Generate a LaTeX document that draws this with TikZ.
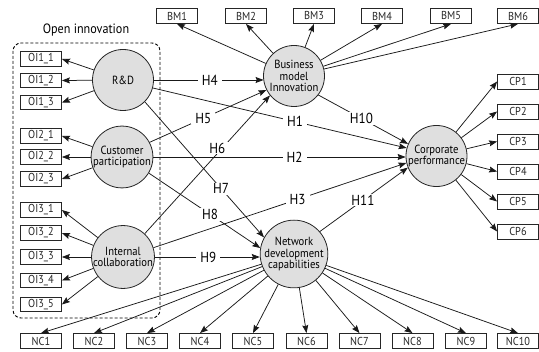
\documentclass[tikz,border=0pt]{standalone}
\usepackage{fontspec}
\setmainfont{PT Sans}[FakeStretch=0.9]
\usetikzlibrary{arrows.meta}
\begin{document}
\begin{tikzpicture}[x=1pt,y=-1pt,
  ind/.style={draw=black!85, line width=0.8pt, minimum width=41pt, minimum height=14.5pt, inner sep=0pt, text=black!85, font=\fontsize{11.5}{12}\selectfont},
  lat/.style={draw=black!85, circle, fill=gray!25, line width=0.8pt, minimum size=61pt, inner sep=0pt, align=center, font=\fontsize{11.8}{11.2}\selectfont},
  arr/.style={-{Stealth[length=8pt,width=6pt,inset=1.2pt]}, line width=0.75pt, draw=black!90},
  hyp/.style={font=\fontsize{14.5}{14.5}\selectfont, fill=white, inner xsep=4pt, inner ysep=1pt},
  grp/.style={draw, line width=0.9pt, dash pattern=on 3pt off 2pt, rounded corners=8pt}
]
\useasboundingbox (0,0) rectangle (539,352);

% group frame
\draw[grp] (13,43) rectangle (160,318);
\node[font=\fontsize{13.5}{13.5}\selectfont] (oilabel) at (86,30) {Open innovation};

% latent variables
\node[lat] (RD)  at (123,80)  {R\&D};
\node[lat] (CuP) at (122,157) {Customer\\participation};
\node[lat] (IC)  at (123,257) {Internal\\collaboration};
\node[lat] (BMI) at (294,76)  {Business\\model\\Innovation};
\node[lat] (CPF) at (436.5,156) {Corporate\\performance};
\node[lat] (NDC) at (294,254) {Network\\development\\capabilities};

% OI indicators
\node[ind] (OI11) at (41,59)  {OI1\_1};
\node[ind] (OI12) at (41,80.5)  {OI1\_2};
\node[ind] (OI13) at (41,102.5) {OI1\_3};
\node[ind] (OI21) at (41,136) {OI2\_1};
\node[ind] (OI22) at (41,157) {OI2\_2};
\node[ind] (OI23) at (41,179) {OI2\_3};
\node[ind] (OI31) at (41,210) {OI3\_1};
\node[ind] (OI32) at (41,233) {OI3\_2};
\node[ind] (OI33) at (41,257) {OI3\_3};
\node[ind] (OI34) at (41,280.5) {OI3\_4};
\node[ind] (OI35) at (41,304.5) {OI3\_5};

% BM indicators
\node[ind, minimum height=15pt] (BM1) at (177,16) {BM1};
\node[ind, minimum height=15pt] (BM2) at (246,16) {BM2};
\node[ind, minimum height=15pt] (BM3) at (314,16) {BM3};
\node[ind, minimum height=15pt] (BM4) at (382,16) {BM4};
\node[ind, minimum height=15pt] (BM5) at (451,16) {BM5};
\node[ind, minimum height=15pt] (BM6) at (518,16) {BM6};

% CP indicators
\node[ind, minimum height=15pt] (CP1) at (518,81.5)  {CP1};
\node[ind, minimum height=15pt] (CP2) at (518,111.5) {CP2};
\node[ind, minimum height=15pt] (CP3) at (518,141.5) {CP3};
\node[ind, minimum height=15pt] (CP4) at (518,171.5) {CP4};
\node[ind, minimum height=15pt] (CP5) at (518,201.5) {CP5};
\node[ind, minimum height=15pt] (CP6) at (518,231.5) {CP6};

% NC indicators
\node[ind, minimum height=15pt] (NC1)  at (41,341)  {NC1};
\node[ind, minimum height=15pt] (NC2)  at (94,341)  {NC2};
\node[ind, minimum height=15pt] (NC3)  at (147,341) {NC3};
\node[ind, minimum height=15pt] (NC4)  at (200,341) {NC4};
\node[ind, minimum height=15pt] (NC5)  at (253,341) {NC5};
\node[ind, minimum height=15pt] (NC6)  at (306.5,341) {NC6};
\node[ind, minimum height=15pt] (NC7)  at (359.5,341) {NC7};
\node[ind, minimum height=15pt] (NC8)  at (412.5,341) {NC8};
\node[ind, minimum height=15pt] (NC9)  at (466,341) {NC9};
\node[ind, minimum height=15pt] (NC10) at (518,341) {NC10};

% measurement arrows
\foreach \i in {1,2,3} \draw[arr] (RD) -- (OI1\i.east);
\foreach \i in {1,2,3} \draw[arr] (CuP) -- (OI2\i.east);
\foreach \i in {1,...,5} \draw[arr] (IC) -- (OI3\i.east);
\foreach \i in {1,...,6} \draw[arr] (BMI) -- (BM\i.south);
\foreach \i in {1,...,6} \draw[arr] (CPF) -- (CP\i.west);
\foreach \i in {1,...,10} \draw[arr] (NDC) -- (NC\i.north);

% structural paths
\draw[arr] (RD.east) -- node[hyp, pos=0.51] {H4} (RD.east -| BMI.190);
\draw[arr] (RD.-15) -- node[hyp, pos=0.56] {H1} (CPF.165);
\draw[arr] (BMI.-38) -- node[hyp, pos=0.48] {H10} (CPF.157);
\draw[arr] (CuP.east) -- node[hyp, pos=0.56] {H2} (CuP.east -| CPF.west);
\draw[arr] (IC.17) -- node[hyp, pos=0.57] {H3} (CPF.193);
\draw[arr] (CuP.28) -- node[hyp, pos=0.46] {H5} (BMI.207);
\draw[arr] (IC.47) -- node[hyp, pos=0.62, xshift=-5pt] {H6} (BMI.219);
\draw[arr] (RD.-45) -- node[hyp, pos=0.64] {H7} (NDC.151);
\draw[arr] (CuP.-31) -- node[hyp, pos=0.55] {H8} (NDC.170);
\draw[arr] (IC.east) -- node[hyp, pos=0.51] {H9} (IC.east -| NDC.west);
\draw[arr] (NDC.41) -- node[hyp, pos=0.49] {H11} (CPF.202);
\end{tikzpicture}
\end{document}
